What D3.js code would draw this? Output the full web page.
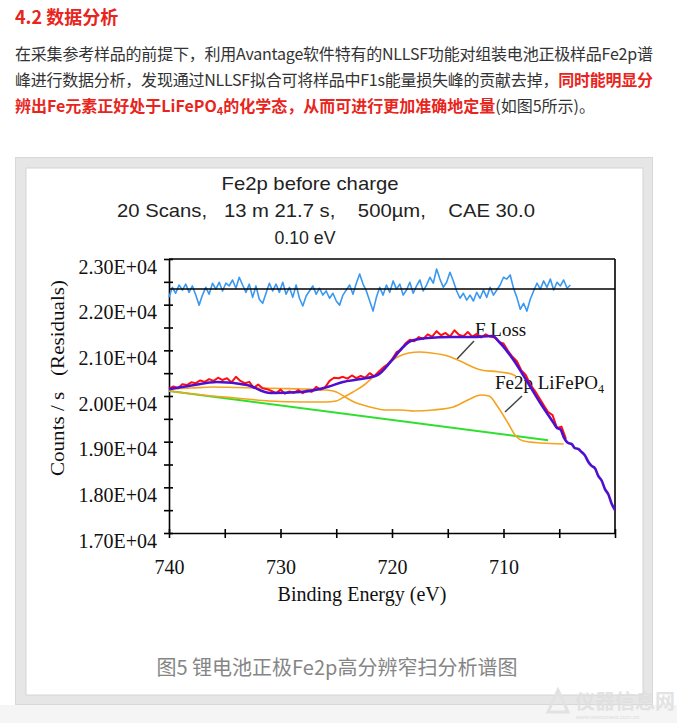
<!DOCTYPE html>
<html><head><meta charset="utf-8">
<script src="https://cdn.jsdelivr.net/npm/d3@7"></script>
<style>html,body{margin:0;padding:0;background:#fff;} svg{display:block}</style>
</head><body><svg id="c" width="677" height="723"></svg>
<script>
// ---------------- DATA ----------------
const xTickValues = [740, 735, 730, 725, 720, 715, 710, 705, 700];
const xTickLabels = [740, 730, 720, 710];
const yTickValues = [17000,17500,18000,18500,19000,19500,20000,20500,21000,21500,22000,22500,23000];
const yTickLabels = {17000:"1.70E+04",18000:"1.80E+04",19000:"1.90E+04",20000:"2.00E+04",21000:"2.10E+04",22000:"2.20E+04",23000:"2.30E+04"};

// residuals (sampled every 0.3 eV from 740 eV)
const residualStartE = 740, residualStepE = 0.3;
const residualCounts = [22160,22380,22250,22430,22320,22450,22270,22410,22210,21990,22210,22380,22230,22470,22340,22490,22300,22470,22410,22540,22360,22600,22430,22270,22450,22160,22410,22120,22030,22250,22470,22300,22450,22270,22490,22230,22380,22160,22430,22140,21970,22190,22300,22410,22230,22360,22210,22300,22140,22250,22080,21990,22210,22320,22430,22230,22470,22670,22450,22300,22080,21860,22160,22380,22210,22430,22270,22520,22340,22450,22210,22320,22490,22250,22410,22540,22300,22430,22600,22470,22780,22560,22380,22490,22710,22520,22300,22140,22250,22100,22210,22080,22270,22140,22320,22160,22380,22210,22320,22430,22600,22560,22650,22360,22160,21900,22030,21860,22120,22300,22470,22340,22520,22380,22560,22320,22490,22410,22540,22360,22430];
const residualZero = 22343;

// raw data (sampled every 0.4 eV from 740 eV)
const rawStartE = 740, rawStepE = 0.4;
const rawCounts = [20160,20210,20170,20260,20240,20300,20280,20340,20310,20370,20330,20400,20350,20390,20300,20420,20330,20280,20310,20180,20250,20170,20150,20110,20060,20140,20050,20100,20070,20130,20060,20120,20090,20200,20140,20190,20330,20400,20390,20420,20380,20450,20390,20440,20400,20500,20430,20530,20620,20690,20800,20960,21010,21150,21230,21200,21290,21250,21350,21300,21420,21330,21380,21300,21440,21340,21310,21400,21300,21360,21280,21350,21300,21280,21180,21150,20990,20860,20760,20560,20460,20250,20120,19960,19800,19650,19580,19300,19330,19060];

// fitted envelope
const envelopeE = [740,738,735.7,733,730.9,728.2,725.8,724.4,722.8,721.3,720.0,719.0,718.3,716.8,714.7,712.7,711.0,710.3,709.1,707.8,706.7,705.5,705.2,704.9,704.6,704.2,703.9,703.6,703.3,703.0,702.7,702.4,702.1,701.8,701.5,701.2,700.9,700.6,700.3,700.0];
const envelopeCounts = [20150,20230,20307,20241,20066,20088,20197,20307,20372,20460,20788,21073,21204,21270,21292,21292,21314,21161,20788,20285,19847,19409,19300,19270,19100,18971,18950,18860,18840,18774,18700,18560,18470,18420,18250,18150,17960,17850,17640,17504];

// Fe2p LiFePO4 component
const fe2pE = [740,738,736,734,732,730,728,726,725,724.2,723.4,722.6,721.6,720.5,719.2,718,716.3,714.5,713.2,712.0,711.3,710.5,709.6,708.9,708.2,706.6,704.6];
const fe2pCounts = [20153,20175,20197,20186,20175,20164,20153,20131,20088,19978,19869,19803,19738,19694,19694,19672,19694,19760,19913,20022,20000,19760,19409,19124,19015,18971,18949];

// F Loss component
const flossE = [740,737,734,731,728,726,725,724.3,723.5,722.5,721.5,720.5,719.5,718.5,717.5,716.5,715,714.1,712.0,710.5,709.3,708.9];
const flossCounts = [20110,20022,19956,19891,19869,19869,19891,19978,20088,20241,20460,20679,20854,20942,20964,20942,20876,20788,20570,20530,20482,20438];

// background
const bgE = [740, 706];
const bgCounts = [20110, 19030];

// ---------------- DRAW ----------------
const svg = d3.select("#c");
svg.append("rect").attr("width",677).attr("height",723).attr("fill","#fff");
svg.append("rect").attr("x",0).attr("y",705).attr("width",677).attr("height",18).attr("fill","#f5f5f5");

// article text
const red = "#e8251c", dark = "#333";
svg.append("text").attr("x",15).attr("y",24).attr("fill",red)
  .style("font-family","'Noto Sans CJK SC','Noto Sans',sans-serif").style("font-weight","bold").style("font-size","18px")
  .text("4.2 数据分析");

const pFont = "'Noto Sans CJK SC','Noto Sans',sans-serif";
function para(y, parts, len){
  const t = svg.append("text").attr("x",15).attr("y",y)
    .style("font-family",pFont).style("font-size","16px").attr("fill",dark);
  if(len){ t.attr("textLength",len).attr("lengthAdjust","spacing"); }
  parts.forEach(p=>{
    const s = t.append("tspan").text(p.t);
    if(p.red){ s.attr("fill",red).style("font-weight","bold"); }
    if(p.sub){ s.attr("dy",3).style("font-size","11px"); }
    if(p.after){ s.attr("dy",-3); }
  });
}
para(60,[{t:"在采集参考样品的前提下，利用Avantage软件特有的NLLSF功能对组装电池正极样品Fe2p谱"}],638);
para(86,[{t:"峰进行数据分析，发现通过NLLSF拟合可将样品中F1s能量损失峰的贡献去掉，"},{t:"同时能明显分",red:true}],638);
para(112,[{t:"辨出Fe元素正好处于LiFePO",red:true},{t:"4",red:true,sub:true},{t:"的化学态，从而可进行更加准确地定量",red:true,after:true},{t:"(如图5所示)。"}]);

// frame
svg.append("rect").attr("x",15.5).attr("y",157.5).attr("width",637).attr("height",547)
  .attr("fill","#e6e6e6").attr("stroke","#d8d8d8");
svg.append("rect").attr("x",26).attr("y",168).attr("width",617).attr("height",527)
  .attr("fill","#fff").attr("stroke","#d4d4d4").attr("stroke-width",1);

// chart titles
const sans = "'Liberation Sans',Arial,sans-serif", serif = "'Liberation Serif','Times New Roman',serif";
[["Fe2p before charge",310,190,177],["20 Scans,   13 m 21.7 s,    500µm,    CAE 30.0",326,217,418],["0.10 eV",305,244,61]]
 .forEach(([s,x,y,w])=>{
   svg.append("text").attr("x",x).attr("y",y).attr("text-anchor","middle")
    .attr("textLength",w).attr("lengthAdjust","spacingAndGlyphs")
    .style("white-space","pre").style("font-family",sans).style("font-size","19px").attr("fill","#222").text(s);
 });

// scales
const x = d3.scaleLinear().domain([740,700]).range([169,615]);
const y = d3.scaleLinear().domain([17000,23000]).range([533,259]);

const g = svg.append("g");
// box top and right
g.append("line").attr("x1",169).attr("x2",615).attr("y1",259).attr("y2",259).attr("stroke","#000").attr("stroke-width",1.6);
g.append("line").attr("x1",615).attr("x2",615).attr("y1",259).attr("y2",533).attr("stroke","#000").attr("stroke-width",1.6);

const yAxis = g.append("g").attr("transform","translate(169,0)")
  .call(d3.axisLeft(y).tickValues(yTickValues).tickSize(5).tickSizeOuter(0).tickPadding(7)
    .tickFormat(d=>yTickLabels[d]||""));
yAxis.selectAll(".tick line").attr("x1",4);
yAxis.selectAll("text").attr("dy",0).attr("y",14).style("font-family",serif).style("font-size","20px").attr("fill","#111");

const xAxis = g.append("g").attr("transform","translate(0,533)")
  .call(d3.axisBottom(x).tickValues(xTickValues).tickSize(5).tickSizeOuter(0)
    .tickFormat(d=>xTickLabels.includes(d)?String(d):""));
xAxis.selectAll(".tick line").attr("y1",-4);
xAxis.selectAll("text").attr("dy",0).attr("y",41).style("font-family",serif).style("font-size","20px").attr("fill","#111");
[yAxis,xAxis].forEach(a=>{a.select(".domain").attr("stroke","#000").attr("stroke-width",1.6);
  a.selectAll(".tick line").attr("stroke","#000").attr("stroke-width",1.6);});

// axis titles
svg.append("text").attr("transform","translate(64,378) rotate(-90)").attr("text-anchor","middle")
  .attr("textLength",196).attr("lengthAdjust","spacingAndGlyphs").style("white-space","pre")
  .style("font-family",serif).style("font-size","19px").attr("fill","#111").text("Counts / s   (Residuals)");
svg.append("text").attr("x",362).attr("y",601).attr("text-anchor","middle")
  .attr("textLength",169).attr("lengthAdjust","spacingAndGlyphs")
  .style("font-family",serif).style("font-size","20px").attr("fill","#111").text("Binding Energy (eV)");

// annotations (under the curves)
svg.append("text").attr("x",475).attr("y",336).style("font-family",serif).style("font-size","19px").attr("fill","#111").text("F Loss");
const t2 = svg.append("text").attr("x",495).attr("y",389).style("font-family",serif).style("font-size","19px").attr("fill","#111");
t2.append("tspan").text("Fe2p LiFePO");
t2.append("tspan").attr("dy",4).style("font-size","12px").text("4");
svg.append("line").attr("x1",457).attr("y1",359).attr("x2",474).attr("y2",341).attr("stroke","#444").attr("stroke-width",1.5);
svg.append("line").attr("x1",505).attr("y1",412).attr("x2",522).attr("y2",396).attr("stroke","#444").attr("stroke-width",1.5);

// curves
const line = d3.line().x(d=>x(d[0])).y(d=>y(d[1]));
const smooth = d3.line().x(d=>x(d[0])).y(d=>y(d[1])).curve(d3.curveMonotoneX);
const zipE = (E,V)=>E.map((e,i)=>[e,V[i]]);
const plot = svg.append("g").attr("fill","none").attr("stroke-linejoin","round");

plot.append("path").attr("d",line(zipE(bgE,bgCounts))).attr("stroke","#2ee02e").attr("stroke-width",2);
plot.append("path").attr("d",smooth(zipE(flossE,flossCounts))).attr("stroke","#f5a31d").attr("stroke-width",1.6);
plot.append("path").attr("d",smooth(zipE(fe2pE,fe2pCounts))).attr("stroke","#f5a31d").attr("stroke-width",1.6);
plot.append("path").attr("d",line(rawCounts.map((v,i)=>[rawStartE-i*rawStepE,v]))).attr("stroke","#ff1010").attr("stroke-width",2);
plot.append("path").attr("d",smooth(zipE(envelopeE,envelopeCounts))).attr("stroke","#4d0fd0").attr("stroke-width",2.6);
plot.append("path").attr("d",line(residualCounts.map((v,i)=>[residualStartE-i*residualStepE,v]))).attr("stroke","#3a98f0").attr("stroke-width",1.6);
plot.append("line").attr("x1",x(740)).attr("x2",x(700)).attr("y1",y(residualZero)).attr("y2",y(residualZero)).attr("stroke","#000").attr("stroke-width",1.6);

// caption
svg.append("text").attr("x",337).attr("y",675).attr("text-anchor","middle").attr("textLength",361).attr("lengthAdjust","spacingAndGlyphs")
  .style("font-family",pFont).style("font-size","20px").attr("fill","#858585").text("图5 锂电池正极Fe2p高分辨窄扫分析谱图");

// watermark
svg.append("text").attr("x",575).attr("y",709).style("font-family",pFont).style("font-size","20px").style("font-weight","bold")
  .attr("fill","#e0e0e0").attr("opacity",0.9).text("仪器信息网");
svg.append("text").attr("x",576).attr("y",719).style("font-family",sans).style("font-size","6px")
  .attr("fill","#dcdcdc").text("www.instrument.com.cn");
svg.append("path").attr("d","M548,712 L558,690 L568,712 Z").attr("fill","none").attr("stroke","#e2e2e2").attr("stroke-width",3);
</script></body></html>
